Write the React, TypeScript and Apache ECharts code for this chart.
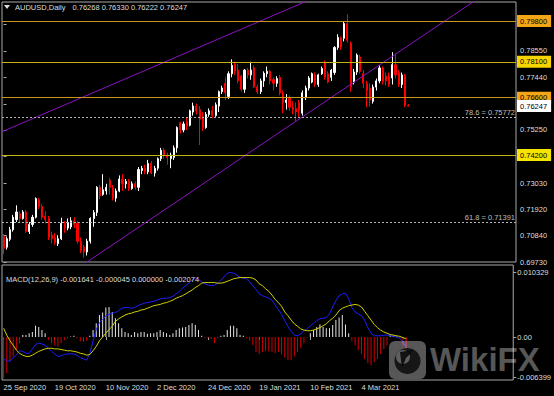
import React, { useEffect, useRef } from 'react';
import * as echarts from 'echarts';

// ---------- DATA ----------
const SYMBOL_NAME = 'AUDUSD,Daily';
const SYMBOL_VALUES = '0.76268 0.76330 0.76222 0.76247';
const MACD_TITLE = 'MACD(12,26,9) -0.001641 -0.000045 0.000000 -0.002074';

const FIRST_DAY = '2020-09-25';
const HOLIDAYS = ['2020-12-25', '2021-01-01'];
const EMPTY_SLOTS = 33; // chart shift on the right
const LABEL_EVERY = 16;

// [open, close, low, high]
const ohlc: number[][] = [
  [0.7080, 0.7030, 0.7006, 0.7090], [0.7035, 0.7070, 0.7025, 0.7080], [0.7068, 0.7108, 0.7060, 0.7120],
  [0.7108, 0.7160, 0.7100, 0.7170], [0.7150, 0.7182, 0.7140, 0.7210], [0.7175, 0.7155, 0.7140, 0.7185],
  [0.7155, 0.7182, 0.7150, 0.7190], [0.7182, 0.7100, 0.7095, 0.7190], [0.7100, 0.7130, 0.7090, 0.7140],
  [0.7130, 0.7160, 0.7120, 0.7170], [0.7160, 0.7238, 0.7155, 0.7243], [0.7232, 0.7205, 0.7195, 0.7240],
  [0.7205, 0.7160, 0.7150, 0.7215], [0.7165, 0.7150, 0.7135, 0.7185], [0.7155, 0.7075, 0.7065, 0.7165],
  [0.7085, 0.7070, 0.7050, 0.7100], [0.7075, 0.7055, 0.7045, 0.7095], [0.7050, 0.7070, 0.7040, 0.7085],
  [0.7070, 0.7135, 0.7065, 0.7158], [0.7135, 0.7115, 0.7095, 0.7145], [0.7115, 0.7138, 0.7105, 0.7155],
  [0.7120, 0.7145, 0.7110, 0.7160], [0.7145, 0.7130, 0.7115, 0.7160], [0.7135, 0.7060, 0.7050, 0.7145],
  [0.7060, 0.7020, 0.7010, 0.7075], [0.7035, 0.7015, 0.6991, 0.7045], [0.7015, 0.7060, 0.7000, 0.7070],
  [0.7060, 0.7155, 0.7050, 0.7160], [0.7155, 0.7180, 0.7120, 0.7190], [0.7180, 0.7285, 0.7165, 0.7290],
  [0.7285, 0.7250, 0.7235, 0.7295], [0.7255, 0.7275, 0.7250, 0.7340], [0.7270, 0.7285, 0.7255, 0.7300],
  [0.7315, 0.7285, 0.7255, 0.7325], [0.7285, 0.7240, 0.7230, 0.7295], [0.7240, 0.7270, 0.7225, 0.7280],
  [0.7270, 0.7320, 0.7265, 0.7335], [0.7320, 0.7300, 0.7270, 0.7340], [0.7300, 0.7310, 0.7280, 0.7320],
  [0.7310, 0.7280, 0.7270, 0.7320], [0.7280, 0.7300, 0.7275, 0.7310], [0.7300, 0.7285, 0.7275, 0.7310],
  [0.7285, 0.7360, 0.7270, 0.7370], [0.7355, 0.7365, 0.7340, 0.7375], [0.7365, 0.7350, 0.7340, 0.7380],
  [0.7350, 0.7385, 0.7340, 0.7400], [0.7385, 0.7345, 0.7340, 0.7395], [0.7345, 0.7365, 0.7330, 0.7375],
  [0.7365, 0.7405, 0.7355, 0.7410], [0.7405, 0.7440, 0.7395, 0.7450], [0.7440, 0.7420, 0.7405, 0.7450],
  [0.7420, 0.7410, 0.7380, 0.7430], [0.7405, 0.7420, 0.7365, 0.7430], [0.7410, 0.7450, 0.7400, 0.7460],
  [0.7450, 0.7535, 0.7430, 0.7540], [0.7555, 0.7525, 0.7510, 0.7560], [0.7525, 0.7550, 0.7515, 0.7560],
  [0.7560, 0.7540, 0.7525, 0.7575], [0.7545, 0.7605, 0.7540, 0.7610], [0.7600, 0.7625, 0.7585, 0.7639],
  [0.7625, 0.7605, 0.7590, 0.7635], [0.7610, 0.7570, 0.7462, 0.7625], [0.7580, 0.7535, 0.7520, 0.7600],
  [0.7535, 0.7590, 0.7530, 0.7600], [0.7590, 0.7605, 0.7580, 0.7615], [0.7605, 0.7585, 0.7575, 0.7625],
  [0.7585, 0.7630, 0.7580, 0.7640], [0.7625, 0.7685, 0.7600, 0.7690], [0.7685, 0.7700, 0.7675, 0.7710],
  [0.7720, 0.7680, 0.7650, 0.7745], [0.7665, 0.7760, 0.7655, 0.7770], [0.7760, 0.7795, 0.7745, 0.7820],
  [0.7800, 0.7770, 0.7755, 0.7810], [0.7775, 0.7730, 0.7720, 0.7800], [0.7750, 0.7695, 0.7685, 0.7755],
  [0.7695, 0.7775, 0.7680, 0.7780], [0.7775, 0.7755, 0.7740, 0.7785], [0.7755, 0.7775, 0.7735, 0.7810],
  [0.7785, 0.7705, 0.7700, 0.7795], [0.7705, 0.7685, 0.7675, 0.7715], [0.7685, 0.7730, 0.7675, 0.7740],
  [0.7730, 0.7762, 0.7705, 0.7770], [0.7760, 0.7770, 0.7745, 0.7790], [0.7770, 0.7730, 0.7715, 0.7775],
  [0.7735, 0.7720, 0.7690, 0.7745], [0.7720, 0.7740, 0.7705, 0.7750], [0.7745, 0.7680, 0.7670, 0.7755],
  [0.7680, 0.7640, 0.7595, 0.7690], [0.7640, 0.7650, 0.7610, 0.7675], [0.7660, 0.7620, 0.7605, 0.7670],
  [0.7620, 0.7610, 0.7590, 0.7645], [0.7615, 0.7600, 0.7563, 0.7640], [0.7640, 0.7605, 0.7580, 0.7650],
  [0.7595, 0.7680, 0.7585, 0.7690], [0.7660, 0.7700, 0.7650, 0.7710], [0.7700, 0.7742, 0.7690, 0.7750],
  [0.7725, 0.7760, 0.7720, 0.7765], [0.7755, 0.7715, 0.7705, 0.7765], [0.7715, 0.7755, 0.7705, 0.7760],
  [0.7760, 0.7782, 0.7755, 0.7790], [0.7805, 0.7745, 0.7735, 0.7815], [0.7760, 0.7725, 0.7720, 0.7770],
  [0.7745, 0.7775, 0.7730, 0.7780], [0.7765, 0.7870, 0.7755, 0.7875], [0.7870, 0.7912, 0.7860, 0.7925],
  [0.7910, 0.7872, 0.7860, 0.7915], [0.7908, 0.7970, 0.7895, 0.7980], [0.7970, 0.7900, 0.7890, 0.8008],
  [0.7888, 0.7705, 0.7685, 0.7895], [0.7725, 0.7767, 0.7715, 0.7780], [0.7767, 0.7838, 0.7755, 0.7845],
  [0.7830, 0.7770, 0.7760, 0.7840], [0.7760, 0.7720, 0.7700, 0.7775], [0.7720, 0.7690, 0.7620, 0.7730],
  [0.7700, 0.7650, 0.7622, 0.7720], [0.7645, 0.7704, 0.7635, 0.7715], [0.7704, 0.7730, 0.7690, 0.7740],
  [0.7730, 0.7784, 0.7720, 0.7795], [0.7784, 0.7728, 0.7715, 0.7790], [0.7750, 0.7730, 0.7710, 0.7765],
  [0.7750, 0.7715, 0.7705, 0.7765], [0.7742, 0.7798, 0.7715, 0.7850], [0.7798, 0.7755, 0.7740, 0.7845],
  [0.7765, 0.7715, 0.7705, 0.7775], [0.7715, 0.7755, 0.7700, 0.7765], [0.7755, 0.7628, 0.7620, 0.7760],
  [0.76268, 0.76247, 0.76222, 0.76330],
];

const macdLine = [
  -0.0034, -0.0039, -0.0038, -0.0033, -0.0029, -0.0022, -0.0023, -0.0026, -0.0026, -0.0019,
  -0.0012, -0.0010, -0.0011, -0.0013, -0.0018, -0.0023, -0.0027, -0.0031, -0.0030, -0.0028,
  -0.0027, -0.0027, -0.0027, -0.0029, -0.0033, -0.0035, -0.0037, -0.0026, -0.0006, 0.0012,
  0.0023, 0.0028, 0.0034, 0.0036, 0.0038, 0.0039, 0.0042, 0.0046, 0.0047, 0.0047,
  0.0046, 0.0047, 0.0050, 0.0052, 0.0054, 0.0055, 0.0056, 0.0057, 0.0059, 0.0061,
  0.0062, 0.0062, 0.0063, 0.0065, 0.0069, 0.0073, 0.0078, 0.0082, 0.0086, 0.0091,
  0.0095, 0.0092, 0.0088, 0.0085, 0.0083, 0.0082, 0.0083, 0.0086, 0.0091, 0.0096,
  0.0102, 0.0103, 0.0102, 0.0099, 0.0095, 0.0094, 0.0093, 0.0088, 0.0082, 0.0076,
  0.0069, 0.0066, 0.0064, 0.0062, 0.0059, 0.0051, 0.0044, 0.0036, 0.0026, 0.0017,
  0.0009, 0.0003, 0.0002, 0.0005, 0.0010, 0.0013, 0.0018, 0.0022, 0.0026, 0.0029,
  0.0030, 0.0031, 0.0037, 0.0048, 0.0058, 0.0066, 0.0069, 0.0070, 0.0061, 0.0047,
  0.0040, 0.0037, 0.0034, 0.0027, 0.0015, 0.0006, 0.0002, 0.0002, 0.0002, 0.0003,
  0.0003, 0.0002, 0.0001, 0.0000, -0.0002, -0.0008, -0.0016,
];

const signalLine = [
  0.0014, 0.0003, -0.0006, -0.0013, -0.0021, -0.0026, -0.0029, -0.0031, -0.0031, -0.0029,
  -0.0026, -0.0023, -0.0021, -0.0019, -0.0018, -0.0018, -0.0019, -0.0019, -0.0020, -0.0021,
  -0.0022, -0.0022, -0.0023, -0.0024, -0.0026, -0.0027, -0.0029, -0.0028, -0.0022, -0.0015,
  -0.0006, 0.0000, 0.0006, 0.0012, 0.0017, 0.0025, 0.0029, 0.0032, 0.0035, 0.0037,
  0.0038, 0.0040, 0.0041, 0.0043, 0.0044, 0.0046, 0.0048, 0.0050, 0.0051, 0.0052,
  0.0054, 0.0055, 0.0057, 0.0059, 0.0062, 0.0064, 0.0066, 0.0069, 0.0072, 0.0075,
  0.0079, 0.0082, 0.0086, 0.0087, 0.0087, 0.0087, 0.0087, 0.0086, 0.0086, 0.0087,
  0.0089, 0.0091, 0.0093, 0.0094, 0.0095, 0.0095, 0.0095, 0.0095, 0.0094, 0.0091,
  0.0085, 0.0082, 0.0077, 0.0073, 0.0067, 0.0060, 0.0055, 0.0049, 0.0040, 0.0034,
  0.0027, 0.0021, 0.0017, 0.0013, 0.0011, 0.0010, 0.0010, 0.0011, 0.0013, 0.0015,
  0.0018, 0.0021, 0.0026, 0.0030, 0.0035, 0.0042, 0.0046, 0.0048, 0.0050, 0.0051,
  0.0052, 0.0051, 0.0048, 0.0041, 0.0034, 0.0027, 0.0020, 0.0015, 0.0011, 0.0008,
  0.0006, 0.0004, 0.0003, 0.0002, 0.0001, -0.0001, -0.0003,
];

const histogram = [
  -0.0066, -0.0058, -0.0039, -0.0031, -0.0021, -0.0010, 0.0003, 0.0003, 0.0006, 0.0008,
  0.0018, 0.0016, 0.0011, 0.0006, -0.0005, -0.0010, -0.0013, -0.0015, -0.0010, -0.0005,
  -0.0002, 0.0001, 0.0002, -0.0002, -0.0007, -0.0008, -0.0006, 0.0002, 0.0011, 0.0022,
  0.0035, 0.0039, 0.0047, 0.0048, 0.0040, 0.0030, 0.0022, 0.0014, 0.0008, 0.0006,
  0.0003, 0.0008, 0.0006, 0.0008, 0.0008, 0.0005, 0.0006, 0.0006, 0.0008, 0.0011,
  0.0008, 0.0006, 0.0003, 0.0006, 0.0011, 0.0014, 0.0015, 0.0016, 0.0019, 0.0022,
  0.0019, 0.0011, 0.0002, -0.0002, -0.0002, -0.0003, -0.0010, -0.0002, 0.0002, 0.0003,
  0.0011, 0.0018, 0.0018, 0.0014, 0.0003, 0.0002, -0.0002, -0.0006, -0.0013, -0.0024,
  -0.0027, -0.0024, -0.0022, -0.0023, -0.0024, -0.0026, -0.0024, -0.0028, -0.0033, -0.0037,
  -0.0037, -0.0031, -0.0024, -0.0018, -0.0010, -0.0001, 0.0006, 0.0011, 0.0016, 0.0020,
  0.0016, 0.0014, 0.0014, 0.0019, 0.0027, 0.0031, 0.0035, 0.0020, 0.0006, -0.0006,
  -0.0013, -0.0021, -0.0027, -0.0035, -0.0042, -0.0045, -0.0040, -0.0035, -0.0027, -0.0019,
  -0.0013, 0.0003, 0.0002, 0.0001, -0.0001, -0.0013, -0.0021,
];

// price ticks; the ones hidden behind the level boxes keep their tick but no label
const priceTicks = [0.7966, 0.7855, 0.7744, 0.7634, 0.7525, 0.7414, 0.7303, 0.7192, 0.7084, 0.6973];
const priceLabels = [0.7966, 0.7855, 0.7744, 0.7525, 0.7303, 0.7192, 0.7084, 0.6973];
const macdTicks = [0.010329, 0, -0.006399];

const levelValues = [0.798, 0.781, 0.766, 0.742];
const levelLineColors = ['#c8961a', '#c8b010', '#c8961a', '#c0b410'];
const levelBoxColors = ['#f2a516', '#f6d400', '#f2a516', '#f4e400'];

const fibNames = ['78.6', '61.8'];
const fibValues = [0.75772, 0.71391];

const lastPrice = 0.76247;

// trend lines, as [bar index, price]
const trendUpper = [[-3, 0.7503], [100, 0.8096]];
const trendLower = [[20, 0.6919], [150, 0.8095]];

// ---------- HELPERS ----------
const MONTHS = ['Jan', 'Feb', 'Mar', 'Apr', 'May', 'Jun', 'Jul', 'Aug', 'Sep', 'Oct', 'Nov', 'Dec'];
function tradingDays(first: string, count: number, holidays: string[]) {
  const out: string[] = [];
  const d = new Date(first + 'T00:00:00Z');
  while (out.length < count) {
    const iso = d.toISOString().slice(0, 10);
    const wd = d.getUTCDay();
    if (wd !== 0 && wd !== 6 && holidays.indexOf(iso) < 0) {
      out.push(d.getUTCDate() + ' ' + MONTHS[d.getUTCMonth()] + ' ' + d.getUTCFullYear());
    }
    d.setUTCDate(d.getUTCDate() + 1);
  }
  return out;
}

const dates = tradingDays(FIRST_DAY, ohlc.length, HOLIDAYS);
const categories = dates.concat(new Array(EMPTY_SLOTS).fill(''));

const FONT = 'Liberation Sans, Arial, sans-serif';
const TXT = '#dedede';
const BORDER = '#a8a8a8';
const PURPLE = '#8a12c4';

const showDate = (i: number) => i % LABEL_EVERY === 0 && i < ohlc.length;

function buildOption() {
  const boxLabel = (text: string, bg: string) => ({
    show: true,
    position: 'end',
    distance: 1,
    formatter: text,
    color: '#000',
    backgroundColor: bg,
    padding: [2, 4, 1, 3],
    fontSize: 7.5,
    lineHeight: 9,
    fontFamily: FONT,
  });
  const levelMarks = levelValues.map((v, i) => ({
    yAxis: v,
    lineStyle: { color: levelLineColors[i], width: 1, type: 'solid' },
    label: boxLabel(v.toFixed(5), levelBoxColors[i]),
  }));
  const fibMarks = fibValues.map((v, i) => ({
    yAxis: v,
    lineStyle: { color: '#b4b4b4', width: 1, type: [2, 2] },
    label: {
      show: true,
      position: 'insideEndTop',
      distance: 1,
      formatter: fibNames[i] + ' = ' + v.toFixed(5),
      color: '#bdbdbd',
      fontSize: 7.5,
      fontFamily: FONT,
    },
  }));
  const lastMark = {
    yAxis: lastPrice,
    lineStyle: { color: 'rgba(0,0,0,0)', width: 1, type: 'solid' },
    label: boxLabel(lastPrice.toFixed(5), '#ffffff'),
  };

  return {
    animation: false,
    backgroundColor: '#000',
    textStyle: { fontFamily: FONT },
    grid: [
      { left: 2, top: 2, width: 514, height: 260, show: true, borderColor: BORDER, borderWidth: 1 },
      { left: 2, top: 265, width: 514, height: 115, show: true, borderColor: BORDER, borderWidth: 1 },
    ],
    xAxis: [
      {
        type: 'category', gridIndex: 0, data: categories,
        axisLine: { show: false }, axisTick: { show: false }, axisLabel: { show: false }, splitLine: { show: false },
      },
      { type: 'value', gridIndex: 0, min: -0.5, max: categories.length - 0.5, show: false },
      {
        type: 'category', gridIndex: 1, data: categories,
        axisLine: { show: false },
        axisTick: { show: true, interval: showDate, alignWithLabel: true, length: 3, lineStyle: { color: BORDER } },
        axisLabel: { interval: showDate, align: 'left', color: TXT, fontSize: 7.5, margin: 3, fontFamily: FONT },
        splitLine: { show: false },
      },
    ],
    yAxis: [
      {
        type: 'value', gridIndex: 0, position: 'right', min: 0.6973, max: 0.80598,
        splitLine: { show: false }, axisLine: { show: false },
        axisTick: { show: true, customValues: priceTicks, length: 3, lineStyle: { color: BORDER } },
        axisLabel: {
          customValues: priceLabels, formatter: (v: number) => v.toFixed(5),
          color: TXT, fontSize: 7.5, margin: 4, fontFamily: FONT,
        },
      },
      {
        type: 'value', gridIndex: 1, position: 'right', min: -0.006869, max: 0.011502,
        splitLine: { show: false }, axisLine: { show: false },
        axisTick: { show: true, customValues: macdTicks, length: 3, lineStyle: { color: BORDER } },
        axisLabel: {
          customValues: macdTicks, formatter: (v: number) => (v === 0 ? '0.00' : v.toFixed(6)),
          color: TXT, fontSize: 7.5, margin: 4, fontFamily: FONT,
        },
      },
    ],
    series: [
      {
        type: 'candlestick', xAxisIndex: 0, yAxisIndex: 0, data: ohlc, barWidth: 1.6,
        itemStyle: { color: '#ffffff', color0: '#ff0000', borderColor: '#ffffff', borderColor0: '#ff0000', borderWidth: 1 },
        markLine: {
          symbol: ['none', 'none'], silent: true, animation: false, precision: 6,
          data: [...levelMarks, ...fibMarks, lastMark],
        },
      },
      {
        type: 'line', xAxisIndex: 1, yAxisIndex: 0, data: trendUpper, symbol: 'none', clip: true, silent: true,
        lineStyle: { color: PURPLE, width: 1 },
      },
      {
        type: 'line', xAxisIndex: 1, yAxisIndex: 0, data: trendLower, symbol: 'none', clip: true, silent: true,
        lineStyle: { color: PURPLE, width: 1 },
      },
      {
        type: 'bar', xAxisIndex: 2, yAxisIndex: 1, barWidth: 1, silent: true,
        data: histogram.map((v) => ({ value: v, itemStyle: { color: v >= 0 ? '#e4e4e4' : '#d20000' } })),
      },
      {
        type: 'line', xAxisIndex: 2, yAxisIndex: 1, data: macdLine, symbol: 'none', silent: true,
        lineStyle: { color: '#1e1eff', width: 1 },
      },
      {
        type: 'line', xAxisIndex: 2, yAxisIndex: 1, data: signalLine, symbol: 'none', silent: true,
        lineStyle: { color: '#d0d000', width: 1 },
      },
    ],
    graphic: [
      { type: 'polygon', z: 100, shape: { points: [[4, 5], [10, 5], [7, 9]] }, style: { fill: TXT } },
      { type: 'text', z: 100, x: 15, y: 7.5, style: { text: SYMBOL_NAME, fill: TXT, fontSize: 7.5, fontFamily: FONT, verticalAlign: 'middle' } },
      { type: 'text', z: 100, x: 72.5, y: 7.5, style: { text: SYMBOL_VALUES, fill: TXT, fontSize: 7.5, fontFamily: FONT, verticalAlign: 'middle' } },
      { type: 'text', z: 100, x: 6, y: 279, style: { text: MACD_TITLE, fill: TXT, fontSize: 7.5, fontFamily: FONT, verticalAlign: 'middle' } },
      // watermark
      { type: 'rect', z: 100, shape: { x: 389, y: 341, width: 37, height: 38, r: 6 }, style: { fill: 'rgba(255,255,255,0.34)' } },
      { type: 'circle', z: 101, shape: { cx: 407.5, cy: 361, r: 13 }, style: { fill: 'rgba(10,10,10,0.85)' } },
      { type: 'circle', z: 102, shape: { cx: 403, cy: 357, r: 7 }, style: { fill: 'rgba(95,95,95,1)' } },
      { type: 'polygon', z: 103, shape: { points: [[400, 352], [414, 350], [406, 358], [402, 368]] }, style: { fill: 'rgba(10,10,10,0.9)' } },
      { type: 'text', z: 100, x: 430, y: 359.5, style: { text: 'WikiFX', fill: 'rgba(255,255,255,0.34)', fontSize: 33, lineHeight: 26, fontWeight: 'bold', fontFamily: FONT, verticalAlign: 'middle' } },
    ],
  };
}

export default function App() {
  const ref = useRef<HTMLDivElement>(null);
  useEffect(() => {
    document.body.style.margin = '0';
    document.body.style.background = '#000';
    const chart = echarts.init(ref.current as HTMLDivElement, null, { renderer: 'svg' });
    chart.setOption(buildOption() as any);
    return () => chart.dispose();
  }, []);
  return <div ref={ref} style={{ width: 554, height: 396 }} />;
}
